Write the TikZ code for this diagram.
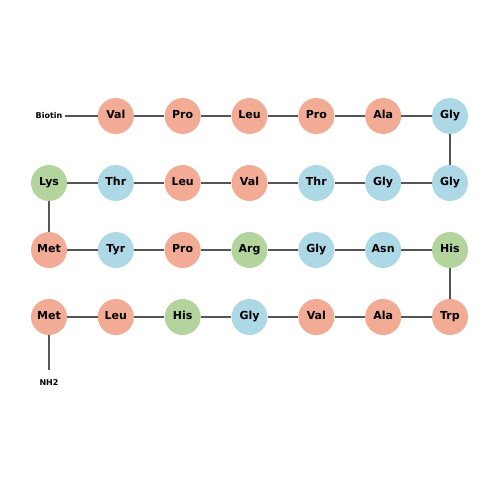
\documentclass[tikz,border=0pt]{standalone}
\usepackage{fontspec}
\setmainfont{DejaVu Sans}
\usetikzlibrary{positioning}

\definecolor{hydrophobic}{HTML}{F2AB94}
\definecolor{polar}{HTML}{ADD8E6}
\definecolor{basic}{HTML}{B3D49C}
\definecolor{linkgray}{HTML}{555555}

\tikzset{
    residue/.style={circle, minimum size=36pt, inner sep=0pt, text height=7.5pt, text depth=2pt, font=\bfseries\fontsize{11}{11}\selectfont},
    endlabel/.style={inner sep=3pt, font=\bfseries\fontsize{8}{8}\selectfont},
    link/.style={draw=linkgray, line width=1.4pt}
}

\begin{document}
\begin{tikzpicture}[x=1pt, y=-1pt]
        \useasboundingbox (0,0) rectangle (500,500);
        \def\dx{66.83} % Column spacing
        \def\dy{67}    % Row spacing

        % First row: Biotin end
        \node[endlabel] (biotin) at (49,116) {Biotin};
        \foreach \aa/\cl [count=\c from 2] in {Val/hydrophobic, Pro/hydrophobic, Leu/hydrophobic, Pro/hydrophobic, Ala/hydrophobic, Gly/polar} {
            \node[residue, fill=\cl] (r1-\c) at ({49+\dx*(\c-1)}, 116) {\aa};
        }

        % Second row
        \foreach \aa/\cl [count=\c] in {Lys/basic, Thr/polar, Leu/hydrophobic, Val/hydrophobic, Thr/polar, Gly/polar, Gly/polar} {
            \node[residue, fill=\cl] (r2-\c) at ({49+\dx*(\c-1)}, {116+\dy}) {\aa};
        }

        % Third row
        \foreach \aa/\cl [count=\c] in {Met/hydrophobic, Tyr/polar, Pro/hydrophobic, Arg/basic, Gly/polar, Asn/polar, His/basic} {
            \node[residue, fill=\cl] (r3-\c) at ({49+\dx*(\c-1)}, {116+2*\dy}) {\aa};
        }

        % Fourth row: NH2 end
        \foreach \aa/\cl [count=\c] in {Met/hydrophobic, Leu/hydrophobic, His/basic, Gly/polar, Val/hydrophobic, Ala/hydrophobic, Trp/hydrophobic} {
            \node[residue, fill=\cl] (r4-\c) at ({49+\dx*(\c-1)}, {116+3*\dy}) {\aa};
        }
        \node[endlabel] (nh2) at (49,383) {NH2};

        % Backbone
        \draw[link] (biotin) -- (r1-2);
        \foreach \c [evaluate=\c as \n using int(\c+1)] in {2,...,6} {
            \draw[link] (r1-\c) -- (r1-\n);
        }
        \foreach \r in {2,3,4} {
            \foreach \c [evaluate=\c as \n using int(\c+1)] in {1,...,6} {
                \draw[link] (r\r-\c) -- (r\r-\n);
            }
        }
        \draw[link] (r1-7) -- (r2-7); % turn right
        \draw[link] (r2-1) -- (r3-1); % turn left
        \draw[link] (r3-7) -- (r4-7); % turn right
        \draw[link, shorten >=7pt] (r4-1) -- (nh2);
    \end{tikzpicture}
\end{document}
